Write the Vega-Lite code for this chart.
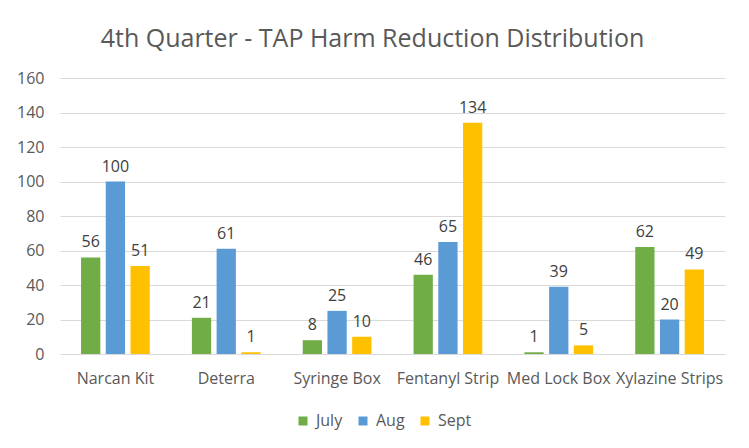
{
  "$schema": "https://vega.github.io/schema/vega-lite/v6.json",
  "width": 665,
  "height": 276,
  "autosize": {"type": "none"},
  "padding": {"left": 60, "top": 78, "right": 24, "bottom": 94},
  "background": "white",
  "title": {
    "text": "4th Quarter - TAP Harm Reduction Distribution",
    "font": "Open Sans",
    "fontSize": 25,
    "fontWeight": "normal",
    "color": "#595959",
    "anchor": "middle",
    "dx": -20,
    "offset": 18
  },
  "data": {
    "values": [
      {"item": "Narcan Kit", "month": "July", "value": 56},
      {"item": "Narcan Kit", "month": "Aug", "value": 100},
      {"item": "Narcan Kit", "month": "Sept", "value": 51},
      {"item": "Deterra", "month": "July", "value": 21},
      {"item": "Deterra", "month": "Aug", "value": 61},
      {"item": "Deterra", "month": "Sept", "value": 1},
      {"item": "Syringe Box", "month": "July", "value": 8},
      {"item": "Syringe Box", "month": "Aug", "value": 25},
      {"item": "Syringe Box", "month": "Sept", "value": 10},
      {"item": "Fentanyl Strip", "month": "July", "value": 46},
      {"item": "Fentanyl Strip", "month": "Aug", "value": 65},
      {"item": "Fentanyl Strip", "month": "Sept", "value": 134},
      {"item": "Med Lock Box", "month": "July", "value": 1},
      {"item": "Med Lock Box", "month": "Aug", "value": 39},
      {"item": "Med Lock Box", "month": "Sept", "value": 5},
      {"item": "Xylazine Strips", "month": "July", "value": 62},
      {"item": "Xylazine Strips", "month": "Aug", "value": 20},
      {"item": "Xylazine Strips", "month": "Sept", "value": 49}
    ]
  },
  "encoding": {
    "x": {
      "field": "item",
      "type": "nominal",
      "sort": null,
      "title": null,
      "scale": {"paddingInner": 0.38, "paddingOuter": 0.19},
      "axis": {
        "labelAngle": 0,
        "labelFont": "Open Sans",
        "labelFontSize": 16,
        "labelColor": "#595959",
        "labelPadding": 16,
        "ticks": false,
        "domain": false
      }
    },
    "xOffset": {
      "field": "month",
      "type": "nominal",
      "sort": ["July", "Aug", "Sept"],
      "scale": {"paddingInner": 0.22, "paddingOuter": 0}
    },
    "y": {
      "field": "value",
      "type": "quantitative",
      "title": null,
      "scale": {"domain": [0, 160], "nice": false},
      "axis": {
        "values": [0, 20, 40, 60, 80, 100, 120, 140, 160],
        "labelFont": "Open Sans",
        "labelFontSize": 16,
        "labelColor": "#595959",
        "labelPadding": 16,
        "ticks": false,
        "domain": false,
        "gridColor": "#D9D9D9",
        "gridWidth": 1
      }
    }
  },
  "layer": [
    {
      "mark": {"type": "bar"},
      "encoding": {
        "color": {
          "field": "month",
          "type": "nominal",
          "sort": ["July", "Aug", "Sept"],
          "scale": {"domain": ["July", "Aug", "Sept"], "range": ["#70AD47", "#5B9BD5", "#FFC000"]},
          "legend": {
            "title": null,
            "orient": "none",
            "direction": "horizontal",
            "legendX": 235,
            "legendY": 335,
            "symbolType": "square",
            "symbolSize": 81,
            "symbolStrokeWidth": 0,
            "labelFont": "Open Sans",
            "labelFontSize": 16,
            "labelColor": "#595959",
            "columnPadding": 12,
            "labelOffset": 5
          }
        }
      }
    },
    {
      "mark": {
        "type": "text",
        "baseline": "bottom",
        "dy": -7,
        "font": "Open Sans",
        "fontSize": 16,
        "color": "#404040"
      },
      "encoding": {
        "text": {"field": "value", "type": "quantitative"}
      }
    }
  ],
  "config": {
    "view": {"stroke": null}
  }
}
